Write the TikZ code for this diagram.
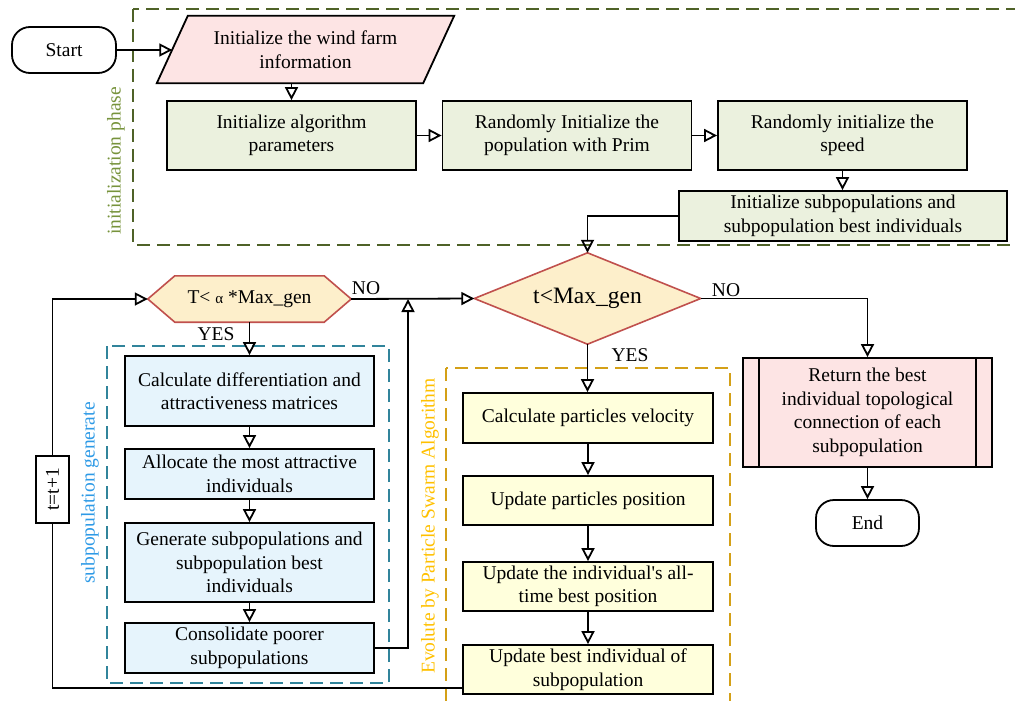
\documentclass[tikz,border=0pt]{standalone}
\usepackage{fontspec}
\setmainfont{Liberation Serif}
\newfontfamily\tnr{Liberation Serif}
\usetikzlibrary{arrows.meta,calc,backgrounds}
\definecolor{olivedash}{HTML}{4F6228}
\definecolor{olivetext}{HTML}{77933C}
\definecolor{gfill}{HTML}{EBF1DE}
\definecolor{pfill}{HTML}{FDE4E4}
\definecolor{ofill}{HTML}{FDEFCB}
\definecolor{redb}{HTML}{C0504D}
\definecolor{bfill}{HTML}{E6F4FC}
\definecolor{tealdash}{HTML}{31849B}
\definecolor{bluetext}{HTML}{2E9AE6}
\definecolor{yfill}{HTML}{FFFFDC}
\definecolor{golddash}{HTML}{D4A017}
\definecolor{goldtext}{HTML}{FFC000}
\newcommand{\fsn}{\tnr\fontsize{19.5}{23.5}\selectfont}
\newcommand{\fsbig}{\tnr\fontsize{23.5}{28}\selectfont}
\begin{document}
\begin{tikzpicture}[x=1pt,y=-1pt,
  every node/.style={font=\fsn},
  box/.style={draw, line width=1.8pt, inner sep=0pt, align=center},
  gbox/.style={box, fill=gfill, minimum width=249pt, minimum height=69pt},
  bbox/.style={box, fill=bfill, minimum width=249pt},
  ybox/.style={box, fill=yfill, minimum width=250pt},
  term/.style={box, rounded corners=18pt, minimum height=46pt},
  plain/.style={inner sep=0pt, align=center},
  conn/.style={line width=1.8pt, -{Triangle[open,length=13pt,width=13pt]}},
  wire/.style={line width=1.8pt},
  grp/.style={line width=2.2pt, dash pattern=on 13pt off 7pt},
  lbl/.style={inner sep=0pt, rotate=90}
]
\useasboundingbox (0,0) rectangle (1015,701);

% group frames
\draw[grp, olivedash] (133,9) rectangle (1030,245);
\draw[grp, tealdash] (107,346) rectangle (389,683);
\draw[grp, golddash] (446,368) rectangle (730,715);
\node[lbl, text=olivetext] (lblinit) at (116,161) {initialization phase};
\node[lbl, text=bluetext] (lblsub) at (90,493) {subpopulation generate};
\node[lbl, text=goldtext] (lblpso) at (430,526) {Evolute by Particle Swarm Algorithm};

% initialization
\node[term, minimum width=104pt] (start) at (64,50) {Start};
\node[plain, minimum width=266pt, minimum height=67pt] (info) at (305.5,49.5) {Initialize the wind farm\\information};
\node[gbox] (b1) at (291.5,135.5) {Initialize algorithm\\parameters};
\node[gbox] (b2) at (567,135.5) {Randomly Initialize the\\population with Prim};
\node[gbox] (b3) at (842.5,135.5) {Randomly initialize the\\speed};
\node[box, fill=gfill, minimum width=328pt, minimum height=50pt] (b4) at (843,216) {Initialize subpopulations and\\subpopulation best individuals};

% decisions
\node[plain, font=\fsbig, minimum width=226pt, minimum height=91pt] (dia) at (587.5,298.5) {t<Max\_gen};
\node[plain, minimum width=203pt, minimum height=46pt] (hex) at (249.5,299) {T< {\fontsize{15}{15}\selectfont α} *Max\_gen};

% subpopulation generate
\node[bbox, minimum height=70pt] (cA) at (249.5,391) {Calculate differentiation and\\attractiveness matrices};
\node[bbox, minimum height=50pt] (cB) at (249.5,474) {Allocate the most attractive\\individuals};
\node[bbox, minimum height=79pt] (cC) at (249.5,562.5) {Generate subpopulations and\\subpopulation best\\individuals};
\node[bbox, minimum height=50pt] (cD) at (249.5,648) {Consolidate poorer\\subpopulations};

% PSO
\node[ybox, minimum height=50pt] (V) at (588,418) {Calculate particles velocity};
\node[ybox, minimum height=49pt] (P) at (588,500.5) {Update particles position};
\node[ybox, minimum height=49pt] (A) at (588,586.5) {Update the individual's all-\\time best position};
\node[ybox, minimum height=49pt] (U) at (588,669.5) {Update best individual of\\subpopulation};

% loop counter
\node[box, minimum width=33pt, minimum height=67pt] (tp) at (52.5,489.5) {};
\node[lbl] (tptext) at (tp.center) {t=t+1};

% output
\node[box, fill=pfill, minimum width=249pt, minimum height=109pt] (ret) at (867.5,412.5) {Return the best\\individual topological\\connection of each\\subpopulation};
\draw[line width=1.8pt] ($(ret.north west)+(16.5,0)$) -- ($(ret.south west)+(16.5,0)$);
\draw[line width=1.8pt] ($(ret.north east)+(-17,0)$) -- ($(ret.south east)+(-17,0)$);
\node[term, minimum width=103pt] (end) at (867.5,523) {End};

% shapes behind text
\begin{scope}[on background layer]
\draw[line width=1.8pt, fill=pfill] ($(info.north west)+(15.5,0)$) -- ($(info.north east)+(15.5,0)$) -- ($(info.south east)+(-15.5,0)$) -- ($(info.south west)+(-15.5,0)$) -- cycle;
\draw[line width=1.6pt, draw=redb, fill=ofill] (dia.west) -- (dia.north) -- (dia.east) -- (dia.south) -- cycle;
\draw[line width=1.6pt, draw=redb, fill=ofill] (hex.west) -- ($(hex.north west)+(27,0)$) -- ($(hex.north east)+(-27,0)$) -- (hex.east) -- ($(hex.south east)+(-27,0)$) -- ($(hex.south west)+(27,0)$) -- cycle;
\end{scope}

% connectors
\draw[conn] (start.east) -- (start.east -| info.west);
\draw[conn] (b1.north |- info.south) -- (b1.north);
\draw[conn] (b1.east) -- (b2.west);
\draw[conn] (b2.east) -- (b3.west);
\draw[conn] (b3.south) -- (b3.south |- b4.north);
\draw[conn] (b4.west) -| (dia.north);
\draw[conn] (dia.east) -| (ret.north);
\draw[conn] (dia.south) -- (dia.south |- V.north);
\draw[conn] (ret.south) -- (end.north);
\draw[conn] (V.south) -- (P.north);
\draw[conn] (P.south) -- (A.north);
\draw[conn] (A.south) -- (U.north);
\draw[conn] (hex.east) -- (dia.west);
\draw[conn] (hex.south) -- (cA.north);
\draw[conn] (cA.south) -- (cB.north);
\draw[conn] (cB.south) -- (cC.north);
\draw[conn] (cC.south) -- (cD.north);
\coordinate (jn) at (408,299);
\draw[conn] (cD.east) -| (jn);
\coordinate (uLink) at ($(U.south west)+(0,-7)$);
\draw[wire] (uLink) -| (tp.south);
\draw[conn] (tp.north) |- (hex.west);

% branch labels
\node[inner sep=0pt] (noH) at (366,288) {NO};
\node[inner sep=0pt] (yesH) at (216,334) {YES};
\node[inner sep=0pt] (noD) at (726,290) {NO};
\node[inner sep=0pt] (yesD) at (630,355) {YES};
\end{tikzpicture}
\end{document}
